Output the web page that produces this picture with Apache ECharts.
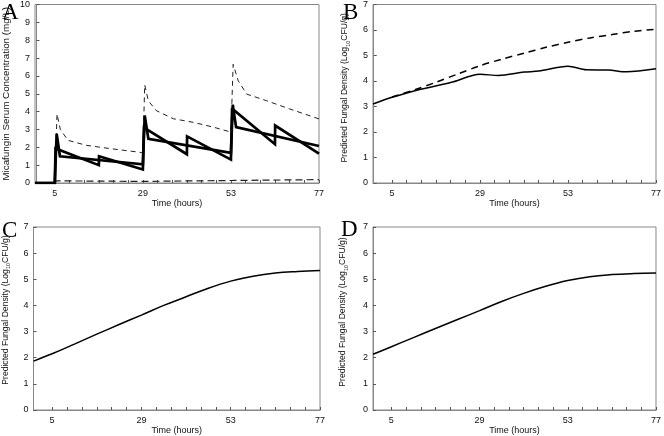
<!DOCTYPE html>
<html><head><meta charset="utf-8">
<script src="https://cdn.jsdelivr.net/npm/echarts@6/dist/echarts.min.js"></script>
<style>html,body{margin:0;padding:0;background:#fff}#c{width:664px;height:436px}</style>
</head><body><div id="c"></div>
<script>
// ---- Data ----
const xTickLabels = [5, 29, 53, 77];
const xMinorTicks = [5, 9, 13, 17, 21, 25, 29, 33, 37, 41, 45, 49, 53, 57, 61, 65, 69, 73, 77];
const yNameA = 'Micafungin Serum Concentration (mg/L)';
const yNameBCDParts = ['Predicted Fungal Density (Log', '10', 'CFU/g)'];
const xName = 'Time (hours)';

// Panel A: serum concentration
const aDailyT = [-0.4, 5, 5.5, 6.4, 29, 29.5, 30.5, 53, 53.5, 54.4, 77];
const aDailyV = [0, 0, 2.76, 1.5, 1.05, 3.78, 2.48, 1.69, 4.39, 3.13, 2.07];
const aTwiceT = [-0.4, 5, 5.2, 5.5, 17, 17.05, 29, 29.3, 29.8, 41, 41.05, 53, 53.3, 54, 65, 65.05, 77];
const aTwiceV = [0, 0, 1.93, 1.83, 1.0, 1.5, 0.76, 3.1, 3.04, 1.61, 2.61, 1.31, 4.1, 4.05, 2.17, 3.22, 1.65];
const aHighT = [5, 5.6, 6.5, 8.6, 13.6, 20, 28.2, 29, 29.5, 30.5, 32.7, 37.3, 42.7, 48.2, 53, 53.6, 55, 57.3, 62.7, 69, 77];
const aHighV = [0, 3.87, 3.0, 2.39, 2.11, 1.93, 1.72, 1.68, 5.5, 4.6, 4.05, 3.6, 3.4, 3.13, 2.85, 6.65, 5.72, 4.98, 4.61, 4.15, 3.59];
const aLowT = [5, 5.3, 29, 29.3, 53, 53.3, 77];
const aLowV = [0, 0.12, 0.09, 0.17, 0.14, 0.22, 0.19];

// Panel B: predicted fungal density
const bSolidT = [-0.2, 5, 12, 21, 29, 34, 41, 45, 53, 58, 64, 69, 77];
const bSolidV = [3.1, 3.36, 3.65, 3.94, 4.26, 4.22, 4.35, 4.39, 4.58, 4.44, 4.43, 4.36, 4.48];
const bDashT = [5, 11, 17, 23, 29, 35, 41, 47, 53, 59, 65, 71, 77];
const bDashV = [3.37, 3.65, 3.95, 4.28, 4.6, 4.86, 5.09, 5.32, 5.52, 5.69, 5.82, 5.95, 6.03];

// Panel C
const cT = [0, 5, 11, 17, 23, 29, 35, 41, 47, 53, 59, 65, 71, 77];
const cV = [1.87, 2.15, 2.52, 2.9, 3.27, 3.63, 4.0, 4.33, 4.66, 4.93, 5.12, 5.24, 5.3, 5.34];
// Panel D
const dT = [0, 5, 11, 17, 23, 29, 35, 41, 47, 53, 59, 65, 71, 77];
const dV = [2.13, 2.42, 2.77, 3.12, 3.46, 3.8, 4.15, 4.46, 4.73, 4.95, 5.1, 5.18, 5.22, 5.24];

const panelLetters = ['A', 'B', 'C', 'D'];

// ---- Build ----
const zip = (t, v) => t.map((x, i) => [x, v[i]]);
const font = 'Liberation Sans, Arial, sans-serif';
const axisCol = '#888';

const grids = [
  {left: 35, top: 3, width: 284, height: 180},
  {left: 373, top: 3, width: 284, height: 180},
  {left: 32, top: 227, width: 288, height: 183},
  {left: 373, top: 227, width: 287, height: 183}
];
const xMins = [-0.4, -0.2, 0, 0];
const yMaxs = [10, 7, 7, 7];
const yNameGaps = [24, 22, 22, 24];
const yNameShift = [0, 12, 17, 13];

const yNameRich = '{a|' + yNameBCDParts[0] + '}{s|' + yNameBCDParts[1] + '}{a|' + yNameBCDParts[2] + '}';

const xAxes = grids.map((g, i) => ({
  type: 'value', gridIndex: i, min: xMins[i], max: 77,
  name: xName, nameLocation: 'middle', nameGap: 15,
  nameTextStyle: {fontSize: 9, fontFamily: font, color: '#111'},
  axisLine: {show: true, lineStyle: {color: axisCol, width: 1}},
  axisTick: {show: true, inside: true, length: 3, customValues: xMinorTicks, lineStyle: {color: '#555'}},
  axisLabel: {customValues: xTickLabels, fontSize: 9, fontFamily: font, color: '#111', margin: 6},
  splitLine: {show: false}
}));
const yAxes = grids.map((g, i) => ({
  type: 'value', gridIndex: i, min: 0, max: yMaxs[i], interval: 1,
  name: i === 0 ? yNameA : yNameRich, nameLocation: 'middle', nameGap: yNameGaps[i],
  nameTextStyle: i === 0
    ? {fontSize: 9.8, fontFamily: font, color: '#111', padding: [0, 0, 0, 0]}
    : {fontFamily: font, color: '#111', padding: [0, 0, 0, yNameShift[i]],
       rich: {
         a: {fontSize: 8.6, fontFamily: font, color: '#111', lineHeight: 12, verticalAlign: 'middle'},
         s: {fontSize: 5.5, fontFamily: font, color: '#111', lineHeight: 12, verticalAlign: 'bottom'}
       }},
  axisLine: {show: true, lineStyle: {color: axisCol, width: 1}},
  axisTick: {show: true, inside: true, length: 3, lineStyle: {color: '#555'}},
  axisLabel: {fontSize: 9, fontFamily: font, color: '#111', margin: 5},
  splitLine: {show: false}
}));

const line = (idx, data, style, extra) => Object.assign({
  type: 'line', xAxisIndex: idx, yAxisIndex: idx, data: data,
  showSymbol: false, symbol: 'none', animation: false, lineStyle: style, z: 3
}, extra || {});

const series = [
  line(0, zip(aLowT, aLowV), {color: '#222', width: 1.2, type: [7, 4]}),
  line(0, zip(aHighT, aHighV), {color: '#222', width: 1, type: [5, 4]}),
  line(0, zip(aDailyT, aDailyV), {color: '#000', width: 2.7, join: 'miter'}),
  line(0, zip(aTwiceT, aTwiceV), {color: '#000', width: 2.7, join: 'miter'}),
  line(1, zip(bDashT, bDashV), {color: '#000', width: 1.5, type: [7, 5]}, {smooth: 0.3}),
  line(1, zip(bSolidT, bSolidV), {color: '#000', width: 1.5}, {smooth: 0.3}),
  line(2, zip(cT, cV), {color: '#000', width: 1.5}, {smooth: 0.4}),
  line(3, zip(dT, dV), {color: '#000', width: 1.5}, {smooth: 0.4})
];

const letterPos = [[2, 1], [343, 1], [2, 219], [341, 218]];
const graphic = panelLetters.map((L, i) => ({
  type: 'text', x: letterPos[i][0], y: letterPos[i][1],
  style: {text: L, fontSize: 23, fontFamily: 'Liberation Serif, Times New Roman, serif', fill: '#000', verticalAlign: 'top'}
}));

const chart = echarts.init(document.getElementById('c'), null, {renderer: 'canvas'});
chart.setOption({
  animation: false,
  backgroundColor: '#fff',
  grid: grids.map(g => Object.assign({show: true, borderColor: axisCol, borderWidth: 1, backgroundColor: 'transparent'}, g)),
  xAxis: xAxes, yAxis: yAxes, series: series, graphic: graphic
});
</script></body></html>
